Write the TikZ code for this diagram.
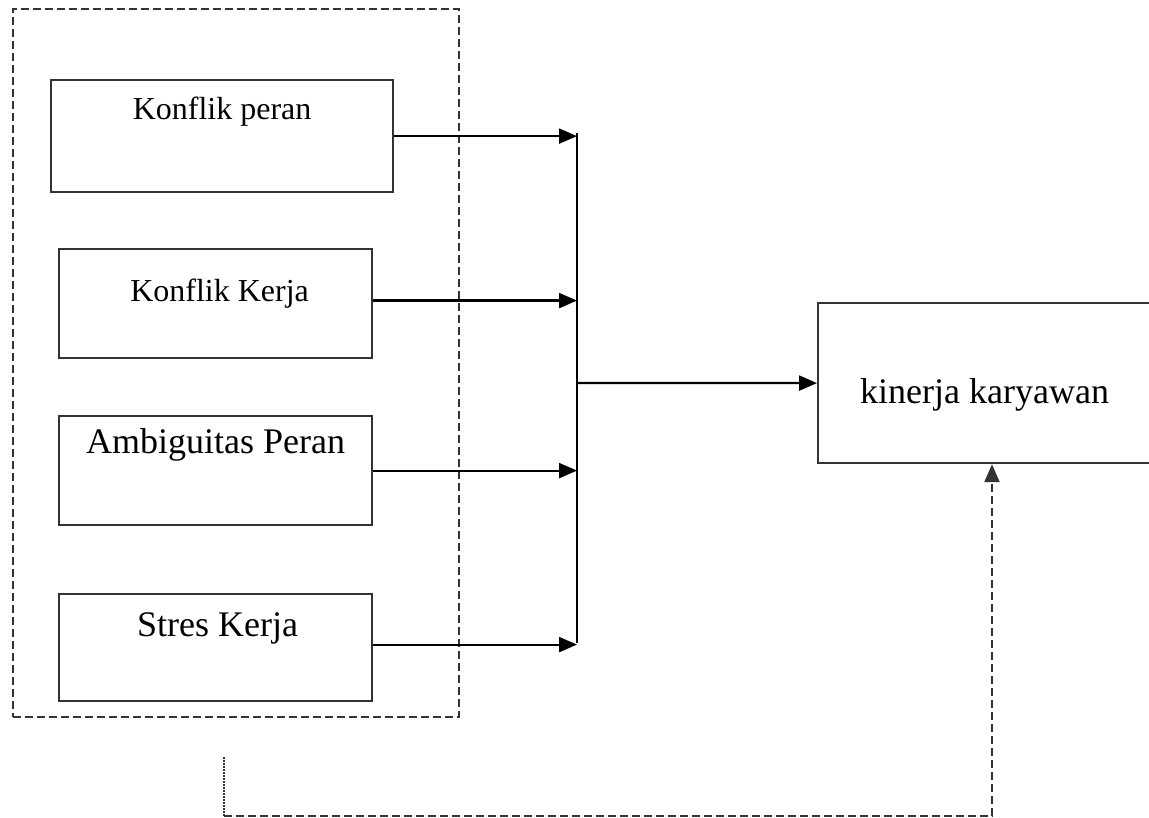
\documentclass[tikz,border=0pt]{standalone}
\usepackage{fontspec}
\setmainfont{Liberation Serif}
\usetikzlibrary{arrows.meta}

\begin{document}
\begin{tikzpicture}[x=1pt,y=-1pt]
\tikzstyle{every node}+=[inner sep=0pt]
\tikzstyle{varbox}=[draw=black!80, line width=2.2pt, rectangle, anchor=north west]
\tikzstyle{arr}=[black, line width=2.2pt, -{Triangle[length=18pt,width=15pt]}]
\tikzstyle{dash line}=[black!80, line width=2.4pt, dash pattern=on 8pt off 4pt]
\tikzstyle{dot line}=[black!80, line width=2.4pt, dash pattern=on 1.5pt off 1.5pt]
\tikzstyle{smalltxt}=[anchor=base, font=\fontsize{32}{38}\selectfont]
\tikzstyle{bigtxt}=[anchor=base, font=\fontsize{36}{42}\selectfont]
\useasboundingbox (0,0) rectangle (1149,818);
% group of the four variables
\node [draw, dash line, rectangle, anchor=north west, minimum width=446pt, minimum height=708pt] (grp) at (12,8) {};
\node [varbox, minimum width=342pt, minimum height=112pt] (kp) at (50,79) {};
\node [smalltxt] at ([yshift=-41pt]kp.north) {Konflik peran};
\node [varbox, minimum width=313pt, minimum height=109pt] (kk) at (58,248) {};
\node [smalltxt] at ([xshift=4pt,yshift=-54pt]kk.north) {Konflik Kerja};
\node [varbox, minimum width=313pt, minimum height=109pt] (ap) at (58,415) {};
\node [bigtxt] at ([yshift=-38pt]ap.north) {Ambiguitas Peran};
\node [varbox, minimum width=313pt, minimum height=107pt] (sk) at (58,593) {};
\node [bigtxt] at ([xshift=2pt,yshift=-43pt]sk.north) {Stres Kerja};
\node [varbox, minimum width=333pt, minimum height=160pt] (kin) at (817,302) {};
\node [bigtxt] at ([yshift=-101pt]kin.north) {kinerja karyawan};
% junction
\coordinate (jtop) at (577,133);
\coordinate (jbot) at (577,643);
\coordinate (jmid) at (577,383);
\draw [black, line width=2.2pt] (jtop) -- (jbot);
\draw [arr] (kp.east) -- (kp.east -| jtop);
\draw [arr] ([yshift=3pt]kk.east) -- ([yshift=3pt]kk.east -| jtop);
\draw [arr] (ap.east) -- (ap.east -| jtop);
\draw [arr] ([yshift=3pt]sk.east) -- ([yshift=3pt]sk.east -| jtop);
\draw [arr] (jmid) -- (kin.west);
% feedback
\coordinate (fb) at (224,757);
\coordinate (fbc) at (992,816);
\draw [dot line] (fb) -- (fb |- fbc);
\draw [dash line, -{Triangle[length=18pt,width=15pt]}] (fb |- fbc) -- (fbc) -- (fbc |- kin.south);
\end{tikzpicture}
\end{document}
